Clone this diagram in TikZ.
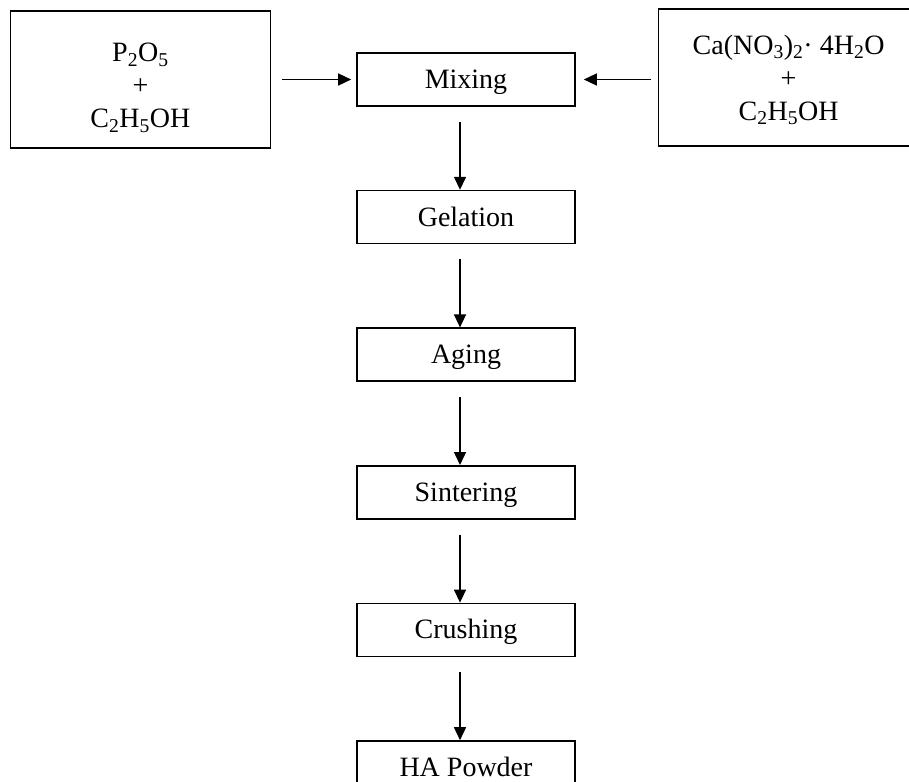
\documentclass[tikz,border=0pt]{standalone}
\usepackage{fontspec}
\setmainfont{Liberation Serif}
\usetikzlibrary{arrows.meta,positioning}
\tikzset{
  stagebox/.style={draw,line width=1.6pt,minimum width=218pt,minimum height=53pt,inner sep=0pt,text height=22pt,text depth=4pt},
  inputbox/.style={draw,line width=1.6pt,align=center,minimum width=260pt,minimum height=137pt,inner sep=0pt},
  stagearrow/.style={-{Triangle[length=13pt,width=12pt]},line width=1.4pt}
}

\begin{document}
\begin{tikzpicture}[x=1pt,y=1pt,node distance=83pt,every node/.style={font=\fontsize{28}{33}\selectfont}]
\useasboundingbox (0,0) rectangle (909,-781);
\clip (0,0) rectangle (909,-781);
\node[stagebox] (mixing) at (466,-79.5) {Mixing};
\node[stagebox, below=of mixing] (gelation) {Gelation};
\node[stagebox, below=of gelation] (aging) {Aging};
\node[stagebox, below=of aging] (sintering) {Sintering};
\node[stagebox, below=of sintering] (crushing) {Crushing};
\node[stagebox, below=of crushing] (powder) {HA Powder};
\node[inputbox, left=85pt of mixing] (phosphor) {\rule{0pt}{35pt}P\textsubscript{2}O\textsubscript{5}\\+\\C\textsubscript{2}H\textsubscript{5}OH};
\node[inputbox, right=82pt of mixing, yshift=2pt] (calcium) {\rule{0pt}{24pt}Ca(NO\textsubscript{3})\textsubscript{2}· 4H\textsubscript{2}O\\+\\C\textsubscript{2}H\textsubscript{5}OH};
\draw[stagearrow, shorten <=11pt, shorten >=5pt] (phosphor) -- (mixing);
\draw[stagearrow, shorten <=7pt, shorten >=8pt] (calcium.west |- mixing) -- (mixing);
\draw[stagearrow, shorten <=15pt] ([xshift=-6pt]mixing.south) -- ([xshift=-6pt]gelation.north);
\draw[stagearrow, shorten <=15pt] ([xshift=-6pt]gelation.south) -- ([xshift=-6pt]aging.north);
\draw[stagearrow, shorten <=15pt] ([xshift=-6pt]aging.south) -- ([xshift=-6pt]sintering.north);
\draw[stagearrow, shorten <=15pt] ([xshift=-6pt]sintering.south) -- ([xshift=-6pt]crushing.north);
\draw[stagearrow, shorten <=15pt] ([xshift=-6pt]crushing.south) -- ([xshift=-6pt]powder.north);
\end{tikzpicture}
\end{document}
